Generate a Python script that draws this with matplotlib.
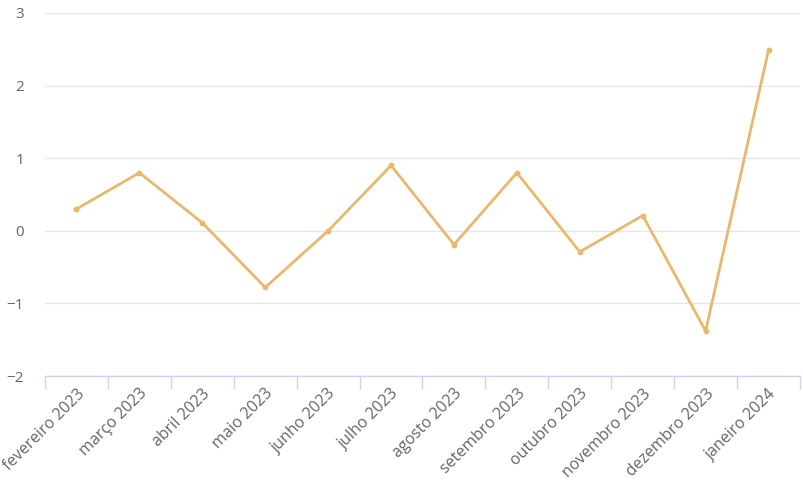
import numpy as np
import matplotlib.pyplot as plt
from matplotlib.ticker import FixedLocator

plt.rcParams['font.family'] = ['Open Sans', 'DejaVu Sans']

months = ['fevereiro 2023', 'março 2023', 'abril 2023', 'maio 2023', 'junho 2023',
          'julho 2023', 'agosto 2023', 'setembro 2023', 'outubro 2023',
          'novembro 2023', 'dezembro 2023', 'janeiro 2024']
values = [0.3, 0.8, 0.11, -0.78, 0.0, 0.9, -0.19, 0.8, -0.29, 0.21, -1.38, 2.49]

line_color = '#e8b96c'
label_color = '#666666'

fig = plt.figure(figsize=(8.04, 4.83), dpi=100)
ax = fig.add_axes([45 / 804, 1 - 376 / 483, 755 / 804, 363 / 483])

x = np.arange(len(months))
ax.plot(x, values, color=line_color, lw=2, marker='o', ms=3.2, zorder=3)

ax.set_xlim(-0.5, len(months) - 0.5)
ax.set_ylim(-2, 3)
ax.set_yticks([-2, -1, 0, 1, 2, 3])
ax.set_yticklabels(['\u22122', '\u22121', '0', '1', '2', '3'])
ax.grid(axis='y', color='#e6e6e6', lw=1)
ax.set_axisbelow(True)

for s in ['top', 'right', 'left']:
    ax.spines[s].set_visible(False)
ax.spines['bottom'].set_color('#ccd6eb')
ax.spines['bottom'].set_linewidth(1)

ax.set_xticks(x)
ax.set_xticklabels(months, rotation=45, ha='right', va='top', rotation_mode='anchor')
ax.xaxis.set_minor_locator(FixedLocator(np.arange(-0.5, len(months), 1)))
ax.tick_params(axis='x', which='major', length=0, pad=7, labelsize=11.5, labelcolor=label_color)
ax.tick_params(axis='x', which='minor', length=9, color='#ccd6eb', width=1)
ax.tick_params(axis='y', length=0, pad=15, labelsize=11, labelcolor=label_color)

fig.savefig('out.png', dpi=100)
